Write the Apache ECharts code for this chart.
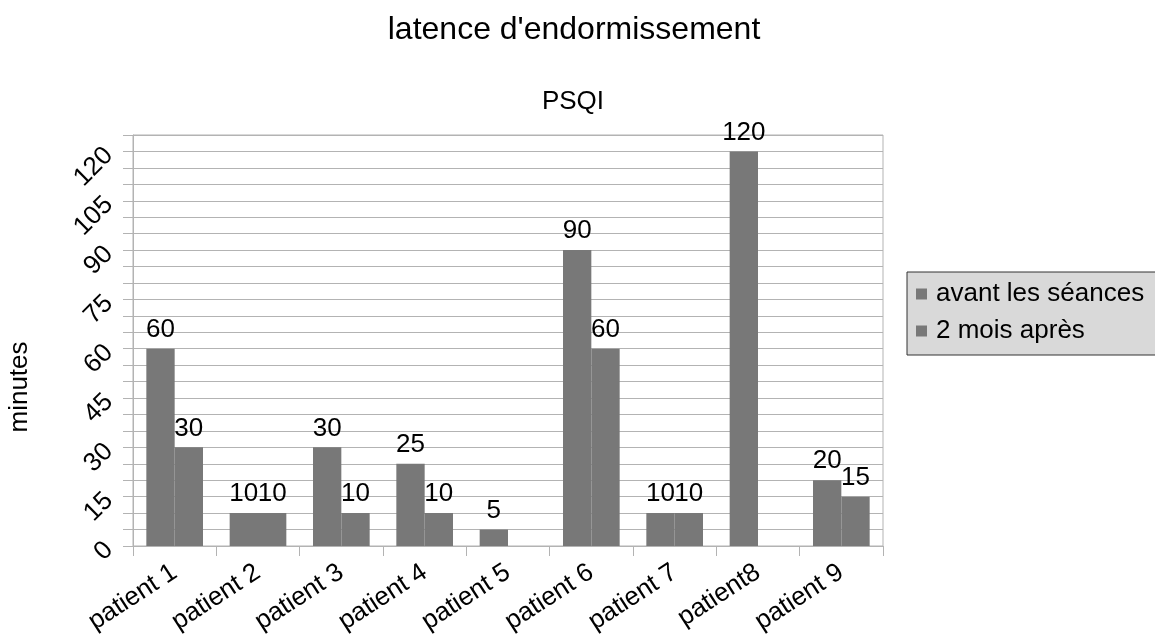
<!DOCTYPE html>
<html>
<head>
<meta charset="utf-8">
<script src="https://cdn.jsdelivr.net/npm/echarts@6/dist/echarts.min.js"></script>
<style>html,body{margin:0;padding:0;background:#fff}#c{width:1155px;height:639px}</style>
</head>
<body>
<div id="c"></div>
<script>
const categories = ['patient 1','patient 2','patient 3','patient 4','patient 5','patient 6','patient 7','patient8','patient 9'];
const avant = [60, 10, 30, 25, 5, 90, 10, 120, 20];
const apres = [30, 10, 10, 10, null, 60, 10, null, 15];
const seriesNames = ['avant les séances', '2 mois après'];
const yTickLabels = [0, 15, 30, 45, 60, 75, 90, 105, 120];
const yAxisTitle = 'minutes';

const FONT = 'Liberation Sans, Arial, sans-serif';
const chart = echarts.init(document.getElementById('c'));
const labelStyle = {show: true, position: 'top', distance: 6, color: '#000', fontSize: 26, fontFamily: FONT};
chart.setOption({
  animation: false,
  title: [
    {text: "latence d'endormissement", left: 569, top: 9, textAlign: 'center',
     textStyle: {fontSize: 32, fontWeight: 'normal', color: '#000', fontFamily: FONT}},
    {text: 'PSQI', left: 568, top: 84, textAlign: 'center',
     textStyle: {fontSize: 26, fontWeight: 'normal', color: '#000', fontFamily: FONT}}
  ],
  graphic: [{
    type: 'text', x: 20, y: 387, rotation: Math.PI / 2,
    style: {text: yAxisTitle, fontSize: 26, fill: '#000', fontFamily: FONT, align: 'center', verticalAlign: 'middle'}
  }],
  legend: {
    orient: 'vertical', left: 907, top: 272,
    backgroundColor: '#d9d9d9', borderColor: '#333', borderWidth: 1,
    padding: [9, 30, 11, 9], itemWidth: 11, itemHeight: 11, itemGap: 11,
    icon: 'rect',
    textStyle: {fontSize: 26, color: '#000', fontFamily: FONT, padding: [0, 0, 0, 4]},
    data: seriesNames
  },
  grid: {left: 133, right: 272, top: 135, bottom: 93, show: true, borderColor: '#b3b3b3', borderWidth: 1},
  xAxis: {
    type: 'category', data: categories,
    axisLine: {lineStyle: {color: '#b3b3b3'}},
    axisTick: {show: true, length: 10, lineStyle: {color: '#b3b3b3'}},
    axisLabel: {rotate: 33, margin: 24, fontSize: 26, color: '#000', fontFamily: FONT}
  },
  yAxis: {
    type: 'value', min: 0, max: 125, interval: 5,
    axisLine: {show: true, lineStyle: {color: '#b3b3b3'}},
    axisTick: {show: true, length: 10, lineStyle: {color: '#b3b3b3'}},
    splitLine: {lineStyle: {color: '#b3b3b3'}},
    axisLabel: {
      rotate: 45, margin: 24, fontSize: 26, color: '#000', fontFamily: FONT,
      formatter: v => yTickLabels.indexOf(v) >= 0 ? String(v) : ''
    }
  },
  series: [
    {name: seriesNames[0], type: 'bar', data: avant, barGap: '0%', barCategoryGap: '32%',
     itemStyle: {color: '#787878'}, label: labelStyle},
    {name: seriesNames[1], type: 'bar', data: apres, barGap: '0%', barCategoryGap: '32%',
     itemStyle: {color: '#787878'}, label: labelStyle}
  ]
});
</script>
</body>
</html>
